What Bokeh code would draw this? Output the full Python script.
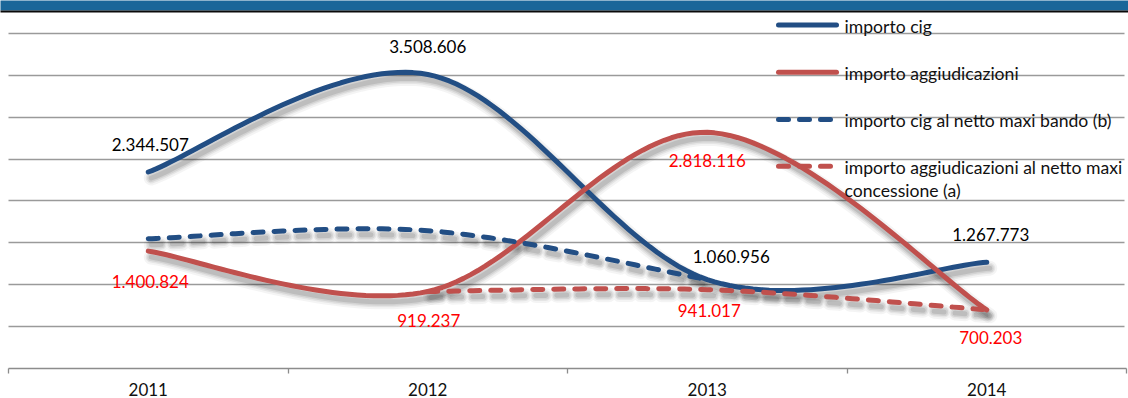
import numpy as np
from bokeh.plotting import figure
from bokeh.models import FixedTicker, Range1d
from bokeh.core.properties import value
from bokeh.embed import file_html
from bokeh.resources import INLINE

# ---------------- data ----------------
years = ["2011", "2012", "2013", "2014"]
importo_cig = [2344507, 3508606, 1060956, 1267773]
importo_aggiudicazioni = [1400824, 919237, 2818116, 700203]
cig_netto_maxi_bando = [1548000, 1645000, 1060956, None]
aggiudicazioni_netto_maxi_concessione = [None, 919237, 941017, 700203]
grid_values = [500000, 1000000, 1500000, 2000000, 2500000, 3000000, 3500000, 4000000]
legend_labels = [
    "importo cig",
    "importo aggiudicazioni",
    "importo cig al netto maxi bando (b)",
    "importo aggiudicazioni al netto maxi\nconcessione (a)",
]

# ---------------- geometry helpers ----------------
W, H = 1128, 398
FRAME_BOTTOM = 368
LEFT_PAD = 8
PX_X = 279.5          # px per category
PX_M = 83.8           # px per million


def xd(px):
    return (px - LEFT_PAD) / PX_X


def yd(py):
    return (FRAME_BOTTOM - py) / PX_M * 1e6


FONT = value("Lato")
FS = "17px"
FS_LEG = "17.6px"
BLUE = "#224e84"
RED = "#c0504d"

xs_cat = [i + 0.5 for i in range(len(years))]


def smooth(xs, ys, n=40):
    pts = np.array([(x, y) for x, y in zip(xs, ys) if y is not None], float)
    out = []
    for i in range(len(pts) - 1):
        p0 = pts[i - 1] if i > 0 else pts[i]
        p1, p2 = pts[i], pts[i + 1]
        p3 = pts[i + 2] if i + 2 < len(pts) else pts[i + 1]
        c1 = p1 + (p2 - p0) / 6.0
        c2 = p2 - (p3 - p1) / 6.0
        t = np.linspace(0, 1, n)[:, None]
        seg = (1 - t) ** 3 * p1 + 3 * (1 - t) ** 2 * t * c1 + 3 * (1 - t) * t ** 2 * c2 + t ** 3 * p2
        if i > 0:
            seg = seg[1:]
        out.append(seg)
    s = np.vstack(out)
    return s[:, 0], s[:, 1]


p = figure(
    width=W, height=H,
    x_range=Range1d(xd(0), xd(W)),
    y_range=Range1d(0, yd(0)),
    output_backend="svg", toolbar_location=None,
    y_axis_location=None,
    min_border_left=0, min_border_right=0, min_border_top=0, min_border_bottom=H - FRAME_BOTTOM,
)
p.outline_line_color = None
p.background_fill_color = "white"
p.border_fill_color = "white"

# grid
p.xgrid.visible = False
p.ygrid.ticker = FixedTicker(ticks=grid_values)
p.ygrid.grid_line_color = "#9a9a9a"
p.ygrid.grid_line_width = 1.5
gr = p.ygrid[0]
if "cross_bounds" in gr.properties():
    gr.cross_bounds = (0, xd(1124))
else:
    p.ygrid.visible = False
    p.segment(x0=[0] * len(grid_values), x1=[xd(1124)] * len(grid_values),
              y0=grid_values, y1=grid_values, line_color="#9a9a9a", line_width=1.5)

# x axis
ax = p.xaxis[0]
ax.ticker = FixedTicker(ticks=xs_cat, minor_ticks=[0, 1, 2, 3, 4])
ax.major_label_overrides = {x: y for x, y in zip(xs_cat, years)}
ax.bounds = (0, 4)
ax.axis_line_color = "#8c8c8c"
ax.axis_line_width = 1.3
ax.major_tick_out = 0
ax.major_tick_in = 0
ax.minor_tick_out = 5
ax.minor_tick_in = 0
ax.minor_tick_line_color = "#8c8c8c"
ax.minor_tick_line_width = 1.3
ax.major_label_standoff = 9
ax.major_label_text_font = "Lato"
ax.major_label_text_font_size = FS
ax.major_label_text_color = "#111111"

# header band
p.quad(left=[xd(-5)], right=[xd(W + 5)], bottom=[yd(10)], top=[yd(-5)],
       fill_color="#1a6699", line_color=None)
p.quad(left=[xd(-5)], right=[xd(W + 5)], bottom=[yd(12)], top=[yd(10)],
       fill_color="#0a0a0a", line_color=None)

series = [
    (importo_cig, BLUE, "solid"),
    (importo_aggiudicazioni, RED, "solid"),
    (cig_netto_maxi_bando, BLUE, "10 11"),
    (aggiudicazioni_netto_maxi_concessione, RED, "10 11"),
]

# shadows
sdx = 3 / PX_X
sdy = -6 / PX_M * 1e6
for vals, col, dash in series:
    sx, sy = smooth(xs_cat, vals)
    for w, a in [(15, 0.045), (11, 0.06), (8, 0.08), (5, 0.1)]:
        p.line(sx + sdx, sy + sdy, line_color="black", line_alpha=a, line_width=w,
               line_cap="round", line_join="round", line_dash=dash)

# lines
for vals, col, dash in series:
    sx, sy = smooth(xs_cat, vals)
    p.line(sx, sy, line_color=col, line_width=5, line_cap="round", line_join="round",
           line_dash=dash)

# data labels  (series, index, color, x offset px, y offset px)
label_specs = [
    (importo_cig, 0, "#000000", 2, -28),
    (importo_cig, 1, "#000000", 0, -28),
    (importo_cig, 2, "#000000", 24, -23),
    (importo_cig, 3, "#000000", 4, -28),
    (importo_aggiudicazioni, 0, "#ff0000", 2, 30),
    (importo_aggiudicazioni, 1, "#ff0000", 1, 29),
    (importo_aggiudicazioni, 2, "#ff0000", 0, 28),
    (aggiudicazioni_netto_maxi_concessione, 2, "#ff0000", 2, 21),
    (importo_aggiudicazioni, 3, "#ff0000", 4, 28),
]
for vals, i, col, ox, oy in label_specs:
    v = vals[i]
    p.text(x=[xs_cat[i]], y=[v], text=[f"{v:,}".replace(",", ".")],
           x_offset=ox, y_offset=oy, text_align="center", text_baseline="middle",
           text_font=FONT, text_font_size=FS, text_color=col)

# legend (drawn manually)
leg_y = [24.5, 71.7, 119, 165.7]
leg_style = [(BLUE, "solid"), (RED, "solid"), (BLUE, "10 11"), (RED, "10 11")]
for lab, ly, (col, dash) in zip(legend_labels, leg_y, leg_style):
    p.line([xd(778), xd(836)], [yd(ly), yd(ly)], line_color=col, line_width=5,
           line_cap="round", line_dash=dash)
    for k, part in enumerate(lab.split("\n")):
        p.text(x=[xd(844)], y=[yd(ly + 1 + k * 23)], text=[part], text_align="left",
               text_baseline="middle", text_font=FONT, text_font_size=FS_LEG,
               text_color="#111111")

open("out.html", "w").write(file_html(p, INLINE))
